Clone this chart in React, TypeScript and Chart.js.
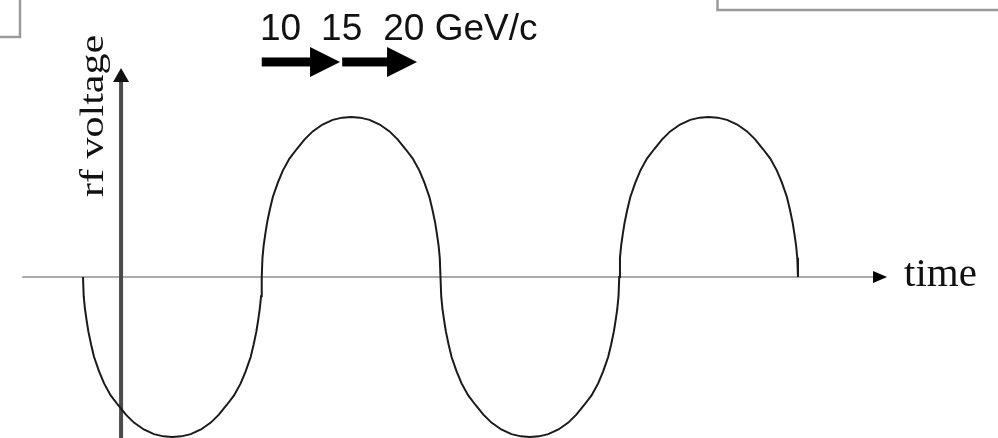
import React, { useEffect, useRef } from "react";
import { Chart, registerables } from "chart.js";

Chart.register(...registerables);

// rf voltage curve, time in units of half rf periods, voltage normalised to peak
const curveTime = [
  0, 0.004, 0.011, 0.02, 0.03, 0.045, 0.062, 0.09, 0.118, 0.155, 0.196, 0.24, 0.285, 0.34, 0.397, 0.45,
  0.5, 0.55, 0.603, 0.66, 0.715, 0.76, 0.804, 0.845, 0.882, 0.91, 0.938, 0.955, 0.97, 0.98, 0.989, 0.996,
  1, 1.004, 1.011, 1.02, 1.03, 1.045, 1.062, 1.09, 1.118, 1.155, 1.196, 1.24, 1.285, 1.34, 1.397, 1.45,
  1.5, 1.55, 1.603, 1.66, 1.715, 1.76, 1.804, 1.845, 1.882, 1.91, 1.938, 1.955, 1.97, 1.98, 1.989, 1.996,
  2, 2.004, 2.011, 2.02, 2.03, 2.045, 2.062, 2.09, 2.118, 2.155, 2.196, 2.24, 2.285, 2.34, 2.397, 2.45,
  2.5, 2.55, 2.603, 2.66, 2.715, 2.76, 2.804, 2.845, 2.882, 2.91, 2.938, 2.955, 2.97, 2.98, 2.989, 2.996,
  3, 3.004, 3.011, 3.02, 3.03, 3.045, 3.062, 3.09, 3.118, 3.155, 3.196, 3.24, 3.285, 3.34, 3.397, 3.45,
  3.5, 3.55, 3.603, 3.66, 3.715, 3.76, 3.804, 3.845, 3.882, 3.91, 3.938, 3.955, 3.97, 3.98, 3.989, 3.996,
  4,
];
const curveVoltage = [
  0, -0.12, -0.2, -0.27, -0.34, -0.42, -0.5, -0.59, -0.665, -0.74, -0.8, -0.86, -0.91, -0.953, -0.982, -0.996,
  -1, -0.996, -0.982, -0.953, -0.91, -0.86, -0.8, -0.74, -0.665, -0.59, -0.5, -0.42, -0.34, -0.27, -0.2, -0.12,
  0, 0.12, 0.2, 0.27, 0.34, 0.42, 0.5, 0.59, 0.665, 0.74, 0.8, 0.86, 0.91, 0.953, 0.982, 0.996,
  1, 0.996, 0.982, 0.953, 0.91, 0.86, 0.8, 0.74, 0.665, 0.59, 0.5, 0.42, 0.34, 0.27, 0.2, 0.12,
  0, -0.12, -0.2, -0.27, -0.34, -0.42, -0.5, -0.59, -0.665, -0.74, -0.8, -0.86, -0.91, -0.953, -0.982, -0.996,
  -1, -0.996, -0.982, -0.953, -0.91, -0.86, -0.8, -0.74, -0.665, -0.59, -0.5, -0.42, -0.34, -0.27, -0.2, -0.12,
  0, 0.12, 0.2, 0.27, 0.34, 0.42, 0.5, 0.59, 0.665, 0.74, 0.8, 0.86, 0.91, 0.953, 0.982, 0.996,
  1, 0.996, 0.982, 0.953, 0.91, 0.86, 0.8, 0.74, 0.665, 0.59, 0.5, 0.42, 0.34, 0.27, 0.2, 0.12,
  0,
];

// axes (data units)
const timeAxisRange = [-0.34, 4.42];
const voltageAxisTime = 0.213;
const voltageAxisRange = [-1.01, 1.306];

// momentum arrows
const momentumLabels = ["10", "15", "20 GeV/c"];
const momentumLabelTimes = [0.99, 1.332, 1.68];
const arrowStarts = [1.0, 1.45];
const arrowEnds = [1.438, 1.869];
const arrowVoltage = 1.344;
const labelVoltage = 1.481;

const axisTitleY = "rf voltage";
const axisTitleX = "time";

const decorPlugin = {
  id: "decor",
  beforeDatasetsDraw(chart: any) {
    const ctx = chart.ctx as CanvasRenderingContext2D;
    const xs = chart.scales.x;
    const ys = chart.scales.y;
    ctx.save();
    // frame boxes at top
    ctx.strokeStyle = "#9a9a9a";
    ctx.lineWidth = 2.5;
    ctx.strokeRect(-10, -10, 30, 47);
    ctx.strokeRect(717.5, -10, 300, 20);

    // horizontal axis
    const y0 = ys.getPixelForValue(0);
    const xa = xs.getPixelForValue(timeAxisRange[0]);
    const xb = xs.getPixelForValue(timeAxisRange[1]);
    ctx.strokeStyle = "#ababab";
    ctx.lineWidth = 2;
    ctx.beginPath();
    ctx.moveTo(xa, y0);
    ctx.lineTo(xb, y0);
    ctx.stroke();
    ctx.fillStyle = "#000";
    ctx.beginPath();
    ctx.moveTo(xb + 14, y0);
    ctx.lineTo(xb, y0 - 6);
    ctx.lineTo(xb, y0 + 6);
    ctx.closePath();
    ctx.fill();

    // vertical axis
    const vx = xs.getPixelForValue(voltageAxisTime);
    const vyBottom = ys.getPixelForValue(voltageAxisRange[0]);
    const vyTop = ys.getPixelForValue(voltageAxisRange[1]);
    ctx.strokeStyle = "#4a4a4a";
    ctx.lineWidth = 4;
    ctx.beginPath();
    ctx.moveTo(vx, vyBottom + 5);
    ctx.lineTo(vx, vyTop + 12);
    ctx.stroke();
    ctx.fillStyle = "#111";
    ctx.beginPath();
    ctx.moveTo(vx, vyTop);
    ctx.lineTo(vx - 8, vyTop + 14);
    ctx.lineTo(vx + 8, vyTop + 14);
    ctx.closePath();
    ctx.fill();

    // axis titles
    ctx.fillStyle = "#111";
    ctx.font = "41px 'Liberation Serif', serif";
    ctx.textBaseline = "alphabetic";
    ctx.textAlign = "left";
    ctx.fillText(axisTitleX, 904, 286);
    ctx.save();
    ctx.translate(103, 197);
    ctx.rotate(-Math.PI / 2);
    ctx.scale(1, 0.78);
    ctx.font = "42px 'Liberation Serif', serif";
    ctx.fillText(axisTitleY, 0, 0);
    ctx.restore();

    // momentum arrows
    const ay = ys.getPixelForValue(arrowVoltage);
    ctx.fillStyle = "#000";
    for (let i = 0; i < arrowStarts.length; i++) {
      const s = xs.getPixelForValue(arrowStarts[i]);
      const e = xs.getPixelForValue(arrowEnds[i]);
      ctx.fillRect(s, ay - 4.5, e - s - 28, 9);
      ctx.beginPath();
      ctx.moveTo(e, ay);
      ctx.lineTo(e - 30, ay - 15);
      ctx.lineTo(e - 30, ay + 15);
      ctx.closePath();
      ctx.fill();
    }
    const ly = ys.getPixelForValue(labelVoltage);
    ctx.font = "37px 'Liberation Sans', Arial, sans-serif";
    ctx.fillStyle = "#111";
    for (let i = 0; i < momentumLabels.length; i++) {
      ctx.fillText(momentumLabels[i], xs.getPixelForValue(momentumLabelTimes[i]), ly);
    }
    ctx.restore();
  },
};

export default function App() {
  const ref = useRef<HTMLCanvasElement | null>(null);
  useEffect(() => {
    if (!ref.current) return;
    const chart = new Chart(ref.current, {
      type: "line",
      data: {
        datasets: [
          {
            data: curveTime.map((t, i) => ({ x: t, y: curveVoltage[i] })),
            borderColor: "#1a1a1a",
            borderWidth: 2,
            pointRadius: 0,
            tension: 0,
            fill: false,
            clip: false as any,
          },
        ],
      },
      options: {
        responsive: false,
        animation: false,
        layout: { padding: 0 },
        plugins: { legend: { display: false }, tooltip: { enabled: false } },
        scales: {
          x: { type: "linear", min: -0.4643, max: 5.1189, display: false },
          y: { type: "linear", min: -1.00625, max: 1.73125, display: false },
        },
      },
      plugins: [decorPlugin],
    });
    return () => chart.destroy();
  }, []);
  return (
    <div style={{ position: "fixed", left: 0, top: 0, width: 998, height: 438, background: "#fff" }}>
      <canvas ref={ref} width={998} height={438} />
    </div>
  );
}
